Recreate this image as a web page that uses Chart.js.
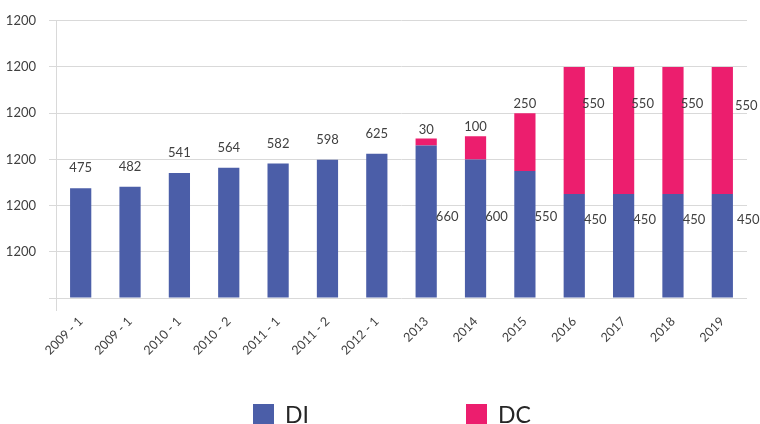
<!DOCTYPE html>
<html>
<head>
<meta charset="utf-8">
<script src="https://cdn.jsdelivr.net/npm/chart.js@4"></script>
<style>
  body { margin: 0; background: #fff; }
  #wrap { position: relative; width: 760px; height: 424px; }
  #legend { position: absolute; left: 253px; top: 400px; display: flex; gap: 157px; font-family: Lato, sans-serif; font-size: 23px; color: #262626; }
  #legend .item { display: flex; align-items: center; }
  #legend .box { width: 21px; height: 21px; margin-right: 11px; }
</style>
</head>
<body>
<div id="wrap">
  <canvas id="myChart" width="760" height="424"></canvas>
  <div id="legend"></div>
</div>
<script>
var labels = ['2009 - 1', '2009 - 1', '2010 - 1', '2010 - 2', '2011 - 1', '2011 - 2', '2012 - 1',
  '2013', '2014', '2015', '2016', '2017', '2018', '2019'];
var diValues = [475, 482, 541, 564, 582, 598, 625, 660, 600, 550, 450, 450, 450, 450];
var dcValues = [null, null, null, null, null, null, null, 30, 100, 250, 550, 550, 550, 550];
var tickLabel = '1200';

var blue = '#4b5ea8';
var pink = '#ec1e6e';

// value labels, placed like the original sheet
var valueLabels = {
  id: 'valueLabels',
  afterDatasetsDraw: function (chart) {
    var c = chart.ctx;
    var y = chart.scales.y;
    var diMeta = chart.getDatasetMeta(0);
    var dcMeta = chart.getDatasetMeta(1);
    var last = diMeta.data.length - 1;
    c.save();
    c.font = '13px Lato, sans-serif';
    c.fillStyle = '#404040';
    c.textAlign = 'center';
    c.textBaseline = 'middle';
    diMeta.data.forEach(function (bar, i) {
      var dc = dcValues[i];
      if (!dc) {
        c.fillText(diValues[i], bar.x, bar.y - 20);
        return;
      }
      var shift = i === last ? 26 : 21;
      c.fillText(diValues[i], bar.x + shift, y.getPixelForValue(i > 9 ? 340 : 350));
      var top = dcMeta.data[i];
      if (dc < 500) {
        c.fillText(dc, top.x, top.y - 9);
      } else {
        c.fillText(dc, top.x + shift - 2, y.getPixelForValue(i === last ? 830 : 840));
      }
    });
    c.restore();
  }
};

var ctx = document.getElementById('myChart').getContext('2d');
var chart = new Chart(ctx, {
  type: 'bar',
  data: {
    labels: labels,
    datasets: [{
      label: 'DI',
      data: diValues,
      backgroundColor: blue
    }, {
      label: 'DC',
      data: dcValues,
      backgroundColor: pink
    }]
  },
  options: {
    responsive: false,
    animation: false,
    barPercentage: 0.43,
    categoryPercentage: 1,
    layout: { padding: { left: 0, right: 13, top: 14, bottom: 50 } },
    plugins: {
      legend: { display: false },
      tooltip: { enabled: false }
    },
    scales: {
      x: {
        stacked: true,
        afterFit: function (s) { s.height = 76; },
        border: { display: false },
        grid: {
          color: function (c) { return c.index === 0 ? '#d9d9d9' : 'rgba(0,0,0,0)'; },
          tickLength: 13
        },
        ticks: {
          minRotation: 45,
          maxRotation: 45,
          color: '#404040',
          font: { family: 'Lato, sans-serif', size: 12.5 }
        }
      },
      y: {
        stacked: true,
        min: 0,
        max: 1200,
        afterFit: function (s) { s.width = 56; },
        border: { display: false },
        grid: { color: '#d9d9d9', tickLength: 7 },
        ticks: {
          stepSize: 200,
          padding: 13,
          color: '#404040',
          font: { family: 'Lato, sans-serif', size: 13 },
          callback: function (v) { return v === 0 ? '' : tickLabel; }
        }
      }
    }
  },
  plugins: [valueLabels]
});

var legend = document.getElementById('legend');
chart.data.datasets.forEach(function (ds) {
  var item = document.createElement('div');
  item.className = 'item';
  var box = document.createElement('span');
  box.className = 'box';
  box.style.background = ds.backgroundColor;
  var txt = document.createElement('span');
  txt.textContent = ds.label;
  item.appendChild(box);
  item.appendChild(txt);
  legend.appendChild(item);
});
</script>
</body>
</html>
